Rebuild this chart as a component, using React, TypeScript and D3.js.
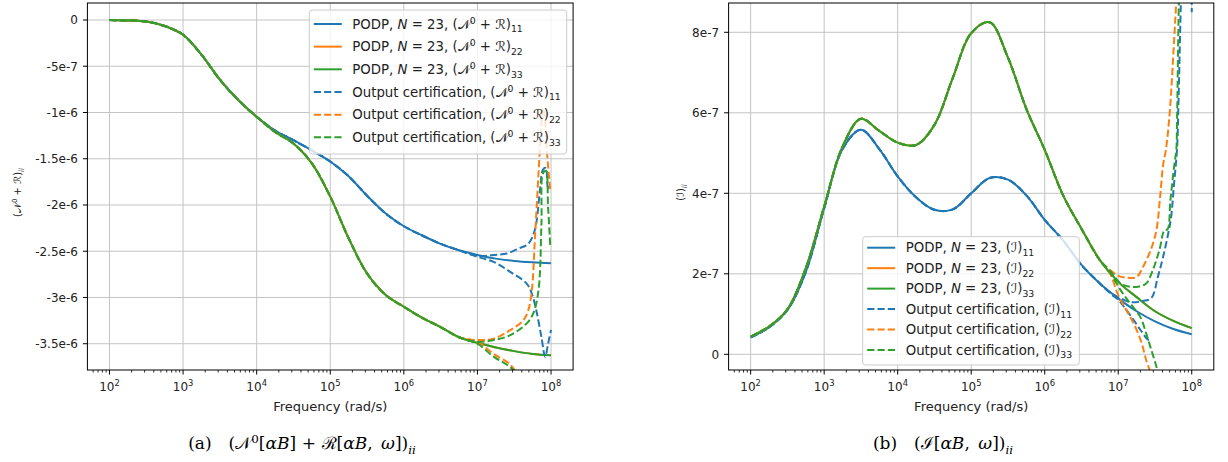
import React, { useRef, useEffect } from "react";
import * as d3 from "d3";

const W = 1228;
const H = 462;

// log10 of frequency (rad/s) for the PODP curves
const logFreq = [2, 2.25, 2.5, 2.75, 3, 3.25, 3.5, 3.75, 4, 4.25, 4.5, 4.75, 5, 5.25, 5.5, 5.75, 6, 6.25, 6.5, 6.75, 7, 7.25, 7.5, 7.75, 8];

// (a) (N0 + R)_ii, in units of 1e-6
const nr11 = [0, -0.005, -0.017, -0.065, -0.16, -0.375, -0.645, -0.865, -1.046, -1.195, -1.3, -1.41, -1.53, -1.69, -1.9, -2.09, -2.23, -2.33, -2.42, -2.49, -2.54, -2.58, -2.605, -2.62, -2.63];
const nr22 = [0, -0.005, -0.017, -0.065, -0.16, -0.375, -0.645, -0.865, -1.046, -1.21, -1.335, -1.55, -1.91, -2.36, -2.74, -2.97, -3.1, -3.22, -3.32, -3.43, -3.49, -3.54, -3.58, -3.61, -3.625];
const nr33 = [0, -0.005, -0.017, -0.065, -0.16, -0.375, -0.645, -0.865, -1.046, -1.21, -1.335, -1.55, -1.91, -2.36, -2.74, -2.97, -3.1, -3.22, -3.32, -3.43, -3.49, -3.54, -3.58, -3.61, -3.625];

// output certification bounds where they leave the PODP curve [log10 f, value]
const nrCert11Hi = [[7.0, -2.55], [7.22, -2.54], [7.4, -2.525], [7.56, -2.47], [7.69, -2.42], [7.78, -2.27], [7.85, -1.84], [7.89, -1.62], [7.93, -1.6], [7.96, -1.81], [8.0, -1.83]];
const nrCert11Lo = [[7.0, -2.56], [7.22, -2.615], [7.44, -2.72], [7.67, -2.85], [7.74, -2.96], [7.8, -3.14], [7.87, -3.43], [7.92, -3.64], [7.96, -3.5], [8.0, -3.35]];
const nrCert22Hi = [[7.0, -3.46], [7.22, -3.445], [7.44, -3.355], [7.62, -3.25], [7.69, -3.14], [7.74, -2.92], [7.78, -2.38], [7.83, -1.66], [7.87, -1.11], [7.89, -0.95], [7.92, -1.1], [7.95, -1.48], [7.99, -1.84]];
const nrCert22Lo = [[7.0, -3.48], [7.22, -3.61], [7.44, -3.72], [7.56, -3.85]];
const nrCert33Hi = [[7.0, -3.48], [7.22, -3.46], [7.44, -3.41], [7.67, -3.28], [7.76, -3.17], [7.83, -2.92], [7.87, -2.2], [7.89, -1.66], [7.93, -1.63], [7.96, -2.02], [7.99, -2.45]];
const nrCert33Lo = [[7.0, -3.5], [7.22, -3.64], [7.44, -3.75], [7.6, -3.88]];

// (b) (I)_ii, in units of 1e-7
const im11 = [0.42, 0.67, 1.1, 2.05, 3.63, 5.1, 5.58, 5.1, 4.42, 3.9, 3.59, 3.6, 4.0, 4.38, 4.34, 3.95, 3.34, 2.83, 2.22, 1.76, 1.39, 1.07, 0.82, 0.63, 0.5];
const im22 = [0.44, 0.69, 1.12, 2.14, 3.67, 5.16, 5.85, 5.55, 5.26, 5.2, 5.7, 6.87, 7.98, 8.25, 7.37, 6.1, 5.08, 3.95, 3.12, 2.34, 1.8, 1.42, 1.07, 0.83, 0.65];
const im33 = [0.44, 0.69, 1.12, 2.14, 3.67, 5.16, 5.85, 5.55, 5.26, 5.2, 5.7, 6.87, 7.98, 8.25, 7.37, 6.1, 5.08, 3.95, 3.12, 2.34, 1.8, 1.42, 1.07, 0.83, 0.65];

const imCert11Hi = [[6.9, 1.52], [7.0, 1.42], [7.16, 1.3], [7.32, 1.32], [7.45, 1.4], [7.54, 1.93], [7.61, 2.42], [7.68, 3.0], [7.72, 3.42], [7.76, 4.25], [7.8, 5.1], [7.82, 6.3], [7.85, 8.6], [7.9, 12], [7.97, 11], [8.0, 8.5]];
const imCert11Lo = [[6.9, 1.5], [7.0, 1.36], [7.07, 1.2], [7.21, 0.85], [7.32, 0.56], [7.41, 0.36], [7.45, 0.38]];
const imCert22Hi = [[6.89, 2.09], [7.0, 1.95], [7.14, 1.9], [7.25, 1.92], [7.34, 2.18], [7.45, 2.63], [7.52, 3.09], [7.57, 3.92], [7.61, 4.7], [7.65, 5.1], [7.7, 6.0], [7.76, 7.8], [7.79, 8.8], [7.82, 10]];
const imCert22Lo = [[6.89, 2.0], [7.0, 1.47], [7.11, 1.1], [7.23, 0.69], [7.32, 0.27], [7.38, -0.14], [7.45, -0.5]];
const imCert33Hi = [[6.9, 2.05], [7.03, 1.76], [7.16, 1.68], [7.27, 1.68], [7.38, 1.76], [7.47, 2.09], [7.56, 2.59], [7.63, 3.09], [7.67, 3.1], [7.71, 3.83], [7.76, 4.66], [7.79, 5.08], [7.8, 5.82], [7.82, 8.3], [7.84, 10]];
const imCert33Lo = [[6.9, 2.0], [7.03, 1.6], [7.16, 1.27], [7.3, 0.93], [7.38, 0.52], [7.45, 0.11], [7.52, -0.31], [7.56, -0.6]];

const leftTicks = [0, -5e-7, -1e-6, -1.5e-6, -2e-6, -2.5e-6, -3e-6, -3.5e-6];
const leftTickLabels = ["0", "-5e-7", "-1e-6", "-1.5e-6", "-2e-6", "-2.5e-6", "-3e-6", "-3.5e-6"];
const rightTicks = [0, 2e-7, 4e-7, 6e-7, 8e-7];
const rightTickLabels = ["0", "2e-7", "4e-7", "6e-7", "8e-7"];
const decades = [2, 3, 4, 5, 6, 7, 8];

const colors = ["#1f77b4", "#ff7f0e", "#2ca02c"];
const FONT = "DejaVu Sans, sans-serif";
const SERIF = "DejaVu Serif, serif";

type Part = { t: string; k?: string };

function addMath(text: any, parts: Part[], size: number) {
  let shift = 0;
  parts.forEach(p => {
    const ts = text.append("tspan").text(p.t);
    let target = 0;
    if (p.k === "sup") target = -0.38 * size;
    if (p.k === "sub" || p.k === "isub") target = 0.28 * size;
    if (target - shift !== 0) ts.attr("dy", target - shift);
    shift = target;
    if (p.k === "sup" || p.k === "sub" || p.k === "isub") ts.attr("font-size", size * 0.7);
    if (p.k === "i" || p.k === "isub") ts.attr("font-style", "italic");
  });
}

const nrLabel = (idx: string): Part[] => [{ t: "(\u{1D4A9}" }, { t: "0", k: "sup" }, { t: " + \u211B)" }, { t: idx, k: "sub" }];
const imLabel = (idx: string): Part[] => [{ t: "(\u2110)" }, { t: idx, k: "sub" }];

function drawPanel(svg: any, cfg: any) {
  const x = d3.scaleLog().domain([10 ** 1.7, 10 ** 8.3]).range([cfg.x0, cfg.x1]);
  const y = d3.scaleLinear().domain(cfg.yDomain).range([cfg.y1, cfg.y0]);
  const g = svg.append("g");

  g.append("clipPath").attr("id", cfg.id).append("rect")
    .attr("x", cfg.x0).attr("y", cfg.y0).attr("width", cfg.x1 - cfg.x0).attr("height", cfg.y1 - cfg.y0);

  // grid
  decades.forEach(d => {
    g.append("line").attr("x1", x(10 ** d)).attr("x2", x(10 ** d)).attr("y1", cfg.y0).attr("y2", cfg.y1)
      .attr("stroke", "#c4c4c4").attr("stroke-width", 1);
  });
  cfg.yTicks.forEach((t: number) => {
    g.append("line").attr("x1", cfg.x0).attr("x2", cfg.x1).attr("y1", y(t)).attr("y2", y(t))
      .attr("stroke", "#c4c4c4").attr("stroke-width", 1);
  });

  const plot = g.append("g").attr("clip-path", `url(#${cfg.id})`);
  const line = d3.line<number[]>().x(d => x(10 ** d[0])).y(d => y(d[1] * cfg.unit)).curve(d3.curveCatmullRom.alpha(0.5));

  cfg.solid.forEach((vals: number[], i: number) => {
    plot.append("path").datum(logFreq.map((f, j) => [f, vals[j]]))
      .attr("d", line).attr("fill", "none").attr("stroke", colors[i]).attr("stroke-width", 2);
  });
  cfg.cert.forEach((pair: number[][][], i: number) => {
    pair.forEach(tail => {
      const head = logFreq.map((f, j) => [f, cfg.solid[i][j]]).filter(p => p[0] < tail[0][0]);
      plot.append("path").datum(head.concat(tail))
        .attr("d", line).attr("fill", "none").attr("stroke", colors[i]).attr("stroke-width", 2)
        .attr("stroke-dasharray", "7.2,3.1");
    });
  });

  // spines
  g.append("rect").attr("x", cfg.x0).attr("y", cfg.y0).attr("width", cfg.x1 - cfg.x0).attr("height", cfg.y1 - cfg.y0)
    .attr("fill", "none").attr("stroke", "#000").attr("stroke-width", 1);

  // x ticks
  decades.forEach(d => {
    const px = x(10 ** d);
    g.append("line").attr("x1", px).attr("x2", px).attr("y1", cfg.y1).attr("y2", cfg.y1 + 4.5).attr("stroke", "#000");
    const t = g.append("text").attr("x", px).attr("y", cfg.y1 + 21).attr("text-anchor", "middle")
      .attr("font-family", FONT).attr("font-size", 12).attr("fill", "#222");
    addMath(t, [{ t: "10" }, { t: String(d), k: "sup" }], 12);
  });
  for (let d = 1; d <= 8; d++) {
    for (let m = 2; m <= 9; m++) {
      const v = m * 10 ** d;
      if (v < 10 ** 1.7 || v > 10 ** 8.3) continue;
      const px = x(v);
      g.append("line").attr("x1", px).attr("x2", px).attr("y1", cfg.y1).attr("y2", cfg.y1 + 2.6)
        .attr("stroke", "#000").attr("stroke-width", 0.8);
    }
  }
  g.append("text").attr("x", (cfg.x0 + cfg.x1) / 2).attr("y", cfg.y1 + 41).attr("text-anchor", "middle")
    .attr("font-family", FONT).attr("font-size", 13).attr("fill", "#222").text("Frequency (rad/s)");

  // y ticks
  cfg.yTicks.forEach((t: number, i: number) => {
    g.append("line").attr("x1", cfg.x0 - 4.5).attr("x2", cfg.x0).attr("y1", y(t)).attr("y2", y(t)).attr("stroke", "#000");
    g.append("text").attr("x", cfg.x0 - 9.5).attr("y", y(t) + 4.3).attr("text-anchor", "end")
      .attr("font-family", FONT).attr("font-size", 12).attr("fill", "#222").text(cfg.yTickLabels[i]);
  });
  const yl = g.append("text").attr("transform", `translate(${cfg.yLabelX},${(cfg.y0 + cfg.y1) / 2 + 6}) rotate(-90)`)
    .attr("text-anchor", "middle").attr("font-family", FONT).attr("font-size", 10).attr("fill", "#222");
  addMath(yl, cfg.yLabel, 10);

  // legend
  const L = cfg.legend;
  g.append("rect").attr("x", L.x).attr("y", L.y).attr("width", L.w).attr("height", L.h).attr("rx", 3)
    .attr("fill", "#fff").attr("fill-opacity", 0.8).attr("stroke", "#cccccc").attr("stroke-width", 1);
  L.labels.forEach((parts: Part[], i: number) => {
    const ry = L.row0 + i * L.step;
    g.append("line").attr("x1", L.x + 4.5).attr("x2", L.x + 32.5).attr("y1", ry).attr("y2", ry)
      .attr("stroke", colors[i % 3]).attr("stroke-width", 2)
      .attr("stroke-dasharray", i >= 3 ? "7.2,3.1" : null);
    const t = g.append("text").attr("x", L.x + 43).attr("y", ry + 4.7)
      .attr("font-family", FONT).attr("font-size", 13.3).attr("fill", "#222");
    addMath(t, parts, 13.3);
  });

  // caption
  const c = g.append("text").attr("x", cfg.capX).attr("y", 449).attr("text-anchor", "middle")
    .attr("font-family", SERIF).attr("font-size", 17).attr("fill", "#000");
  addMath(c, cfg.caption, 17);
}

const podp = (lbl: Part[]): Part[] => [{ t: "PODP, " }, { t: "N", k: "i" }, { t: " = 23, " }, ...lbl];
const oc = (lbl: Part[]): Part[] => [{ t: "Output certification, " }, ...lbl];

const App = () => {
  const ref = useRef<SVGSVGElement>(null);

  useEffect(() => {
    const svg = d3.select(ref.current);
    svg.selectAll("*").remove();

    drawPanel(svg, {
      id: "clipA", x0: 87.4, x1: 573.1, y0: 3, y1: 370, unit: 1e-6,
      yDomain: [-3.784e-6, 0.1838e-6], yTicks: leftTicks, yTickLabels: leftTickLabels,
      yLabelX: 21, yLabel: [{ t: "(\u{1D4A9}" }, { t: "0", k: "sup" }, { t: " + \u211B)" }, { t: "ii", k: "isub" }],
      solid: [nr11, nr22, nr33],
      cert: [[nrCert11Hi, nrCert11Lo], [nrCert22Hi, nrCert22Lo], [nrCert33Hi, nrCert33Lo]],
      legend: {
        x: 309.3, y: 10, w: 257.4, h: 144, row0: 24, step: 22.66,
        labels: [podp(nrLabel("11")), podp(nrLabel("22")), podp(nrLabel("33")), oc(nrLabel("11")), oc(nrLabel("22")), oc(nrLabel("33"))],
      },
      capX: 302,
      caption: [{ t: "(a)\u2003(\u{1D4A9}" }, { t: "0", k: "sup" }, { t: "[" }, { t: "\u03B1B", k: "i" }, { t: "]\u2004+\u2004\u211B[" },
        { t: "\u03B1B", k: "i" }, { t: ",\u2002" }, { t: "\u03C9", k: "i" }, { t: "])" }, { t: "ii", k: "isub" }],
    });

    drawPanel(svg, {
      id: "clipB", x0: 728.6, x1: 1213.8, y0: 3, y1: 370, unit: 1e-7,
      yDomain: [-0.39e-7, 8.728e-7], yTicks: rightTicks, yTickLabels: rightTickLabels,
      yLabelX: 684, yLabel: [{ t: "(\u2110)" }, { t: "ii", k: "isub" }],
      solid: [im11, im22, im33],
      cert: [[imCert11Hi, imCert11Lo], [imCert22Hi, imCert22Lo], [imCert33Hi, imCert33Lo]],
      legend: {
        x: 862.7, y: 236.7, w: 216.6, h: 128.3, row0: 247.7, step: 20.46,
        labels: [podp(imLabel("11")), podp(imLabel("22")), podp(imLabel("33")), oc(imLabel("11")), oc(imLabel("22")), oc(imLabel("33"))],
      },
      capX: 943,
      caption: [{ t: "(b)\u2003(\u2110[" }, { t: "\u03B1B", k: "i" }, { t: ",\u2002" }, { t: "\u03C9", k: "i" }, { t: "])" }, { t: "ii", k: "isub" }],
    });
  }, []);

  return (
    <svg ref={ref} width={W} height={H} style={{ position: "absolute", left: 0, top: 0, background: "#fff" }} />
  );
};

export default App;
